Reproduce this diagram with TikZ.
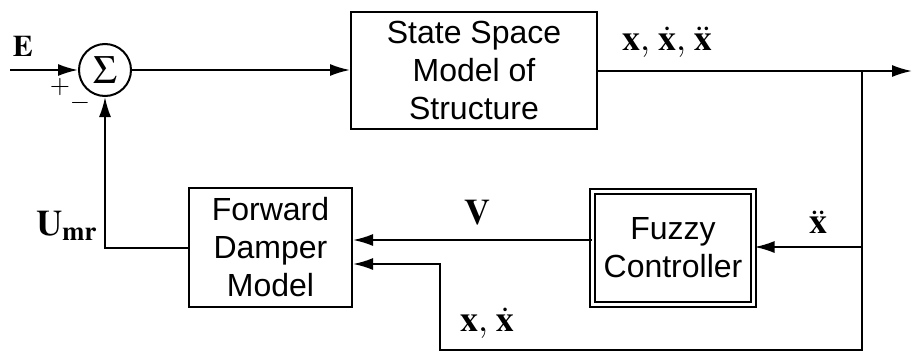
\documentclass[tikz,border=0pt]{standalone}
\usepackage{mathptmx}
\usepackage[no-math]{fontspec}
\newfontfamily\blockfont{Liberation Sans}
\usetikzlibrary{arrows.meta,calc}

\begin{document}
\begin{tikzpicture}
      [x = 0.5pt, y = -0.5pt,
      line width = 1pt,
      >={Latex[length=10pt,width=6pt]},
      block/.style= {
         draw,
         align = center,
         inner sep = 0pt,
         font = \blockfont\fontsize{16}{19}\selectfont
      },
      sumnode/.style= {
         draw,
         circle,
         inner sep = 0pt,
         minimum size = 26pt,
         font = \fontsize{20}{22}\selectfont
      },
      lbl/.style= {
         inner sep = 1pt,
         font = \fontsize{18}{20}\selectfont
      },
      sign/.style= {
         inner sep = 0pt,
         font = \fontsize{13}{15}\selectfont
      }]

      \useasboundingbox (0,0) rectangle (914,354);

      % blocks
      \node[sumnode] (sum) at (105,70) {$\Sigma$};
      \node[block, minimum width = 123pt, minimum height = 58.5pt] (ssm) at (474,70.5) {State Space\\Model of\\Structure};
      \node[block, minimum width = 81.5pt, minimum height = 59.5pt] (fdm) at (270.5,247.5) {Forward\\Damper\\Model};
      \node[block, double, double distance = 1.5pt, minimum width = 80.5pt, minimum height = 56.5pt] (fzc) at (673,248) {Fuzzy\\Controller};

      % corner points
      \coordinate (ein) at (10,70);
      \coordinate (br) at (862,71);
      \coordinate (out) at (912,71);
      \coordinate (brf) at (862,247);
      \coordinate (brb) at (862,350);
      \coordinate (bl) at (440,350);
      \coordinate (vy) at (0,240);
      \coordinate (xy) at (440,264);

      % connectors
      \draw[->] (ein) -- (sum.west);
      \draw[->] (sum.east) -- (sum.east -| ssm.west);
      \draw[->] (ssm.east |- br) -- (out);
      \draw[->] (br) -- (brb) -- (bl) -- (xy) -- (xy -| fdm.east);
      \draw[->] (brf) -- (brf -| fzc.east);
      \draw[->] (fzc.west |- vy) -- (fdm.east |- vy);
      \draw[->] (fdm.west) -| (sum.south);

      % labels
      \node[lbl, font = \fontsize{15}{17}\selectfont] (elbl) at (23,46) {$\mathbf{E}$};
      \node[sign] (plus) at (60,87) {$+$};
      \node[sign] (minus) at (80,103) {$-$};
      \node[lbl] (ylbl) at (667,42) {$\mathbf{x},\,\dot{\mathbf{x}},\,\ddot{\mathbf{x}}$};
      \node[lbl] (ulbl) at (67,226) {$\mathbf{U}_{\mathbf{mr}}$};
      \node[lbl] (vlbl) at (477,213) {$\mathbf{V}$};
      \node[lbl] (albl) at (818,222) {$\ddot{\mathbf{x}}$};
      \node[lbl] (xlbl) at (487,323) {$\mathbf{x},\,\dot{\mathbf{x}}$};

   \end{tikzpicture}
\end{document}
